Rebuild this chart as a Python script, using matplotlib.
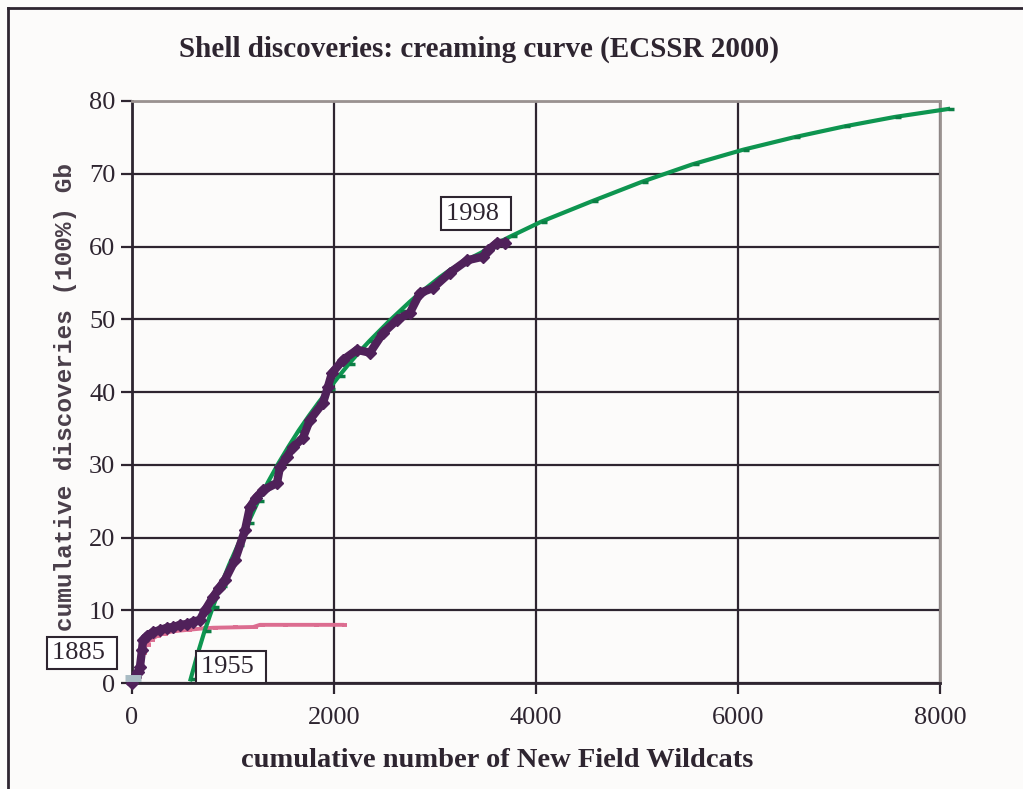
import matplotlib
matplotlib.use("Agg")
import matplotlib.pyplot as plt
from matplotlib.path import Path
from matplotlib.lines import Line2D

# ---- data ----
actual_x = [0, 30, 60, 79, 99, 109, 150, 208, 280, 346, 410, 475, 540, 604, 673, 723, 802, 860, 921,
            1020, 1119, 1168, 1230, 1297, 1436, 1465, 1530, 1594, 1693, 1762, 1891, 1940, 1980, 2089,
            2228, 2356, 2485, 2624, 2752, 2851, 2980, 3148, 3317, 3475, 3524, 3614, 3693]
actual_y = [0, 0.8, 1.5, 2.2, 4.5, 5.9, 6.5, 7.0, 7.3, 7.6, 7.7, 8.0, 8.1, 8.4, 8.7, 10.0, 11.8, 13.0, 14.2,
            16.9, 21.0, 24.2, 25.5, 26.5, 27.5, 29.7, 31.0, 32.4, 33.7, 36.2, 38.5, 40.7, 42.6, 44.4,
            45.8, 45.4, 48.1, 49.9, 50.9, 53.6, 54.3, 56.4, 58.1, 58.6, 59.5, 60.5, 60.5]

cycle1_x = [0, 49, 99, 140, 178, 240, 307, 400, 544, 700, 802, 1000, 1200, 1267, 1500, 1800, 2079]
cycle1_y = [0, 0.8, 4.1, 5.2, 5.9, 6.4, 6.8, 7.1, 7.3, 7.5, 7.6, 7.65, 7.7, 8.0, 8.0, 8.0, 8.0]

cycle2_x = [580, 650, 720, 800, 880, 960, 1050, 1150, 1250, 1350, 1450, 1550, 1650, 1750, 1850, 1950,
            2050, 2150, 2250, 2350, 2450, 2550, 2650, 2750, 2850, 2950, 3050, 3150, 3250, 3350, 3450,
            3550, 3650, 3750, 4050, 4550, 5050, 5550, 6050, 6550, 7050, 7550, 8080]
cycle2_y = [0.5, 4.0, 7.2, 10.4, 13.4, 16.2, 19.0, 22.0, 25.0, 27.7, 30.2, 32.5, 34.7, 36.7, 38.6, 40.4,
            42.2, 43.9, 45.5, 47.0, 48.4, 49.8, 51.1, 52.4, 53.6, 54.7, 55.8, 56.8, 57.6, 58.4, 59.1,
            59.9, 60.7, 61.4, 63.4, 66.2, 68.9, 71.3, 73.3, 75.0, 76.5, 77.8, 78.9]

start_x = [15]
start_y = [0.75]

x_ticks = [0, 2000, 4000, 6000, 8000]
y_ticks = [0, 10, 20, 30, 40, 50, 60, 70, 80]

labels = [("1885", -495, 4.1), ("1955", 980, 2.2), ("1998", 3406, 64.5)]

title = "Shell discoveries: creaming curve (ECSSR 2000)"
xlabel = "cumulative number of New Field Wildcats"
ylabel = "cumulative discoveries (100%) Gb"

# ---- figure ----
serif = "Liberation Serif"
bg = "#fcfbfa"
dark = "#2e2530"
fig = plt.figure(figsize=(10.23, 7.89), dpi=100, facecolor=bg)
ax = fig.add_axes([0.129, 0.1343, 0.9189 - 0.129, 0.872 - 0.1343])
ax.set_facecolor(bg)
ax.set_xlim(0, 8000)
ax.set_ylim(0, 80)

ax.grid(True, color=dark, linewidth=1.6, zorder=0)
ax.set_axisbelow(True)
for s in ["left", "bottom"]:
    ax.spines[s].set_color(dark)
    ax.spines[s].set_linewidth(2)
for s in ["top", "right"]:
    ax.spines[s].set_color("#9a9290")
    ax.spines[s].set_linewidth(2)

ax.set_xticks(x_ticks)
ax.set_yticks(y_ticks)
ax.set_xticklabels([str(v) for v in x_ticks], fontfamily=serif, fontsize=19, color=dark)
ax.set_yticklabels([str(v) for v in y_ticks], fontfamily=serif, fontsize=19, color=dark)
ax.tick_params(axis="both", direction="out", length=8, width=1.6, color=dark, pad=4)
ax.tick_params(axis="x", pad=9)

tick_right = Path([(0, 0), (1, 0)], [Path.MOVETO, Path.LINETO])

ax.plot(cycle1_x, cycle1_y, color="#dc6d90", linewidth=2.8, marker=tick_right,
        markersize=7, markeredgewidth=2.8, zorder=3, clip_on=False)
ax.plot(cycle2_x, cycle2_y, color="#0e9550", linewidth=3, marker=tick_right,
        markersize=9, markeredgewidth=2.5, markeredgecolor="#0b7e44", zorder=4, clip_on=False)
ax.plot(actual_x, actual_y, color="#50215a", linewidth=6, marker="D",
        markersize=6, zorder=5, clip_on=False)
ax.plot(start_x, start_y, color="#a9bcc4", linestyle="none", marker="_",
        markersize=11, markeredgewidth=5, zorder=6, clip_on=False)

for txt, lx, ly in labels:
    ax.text(lx, ly, txt + " ", fontfamily=serif, fontsize=19, color=dark, ha="center", va="center",
            zorder=7, clip_on=False,
            bbox=dict(boxstyle="square,pad=0.2", facecolor="white", edgecolor=dark, linewidth=1.5))

fig.text(0.468, 0.938, title, fontfamily=serif, fontweight="bold", fontsize=21,
         color=dark, ha="center", va="center")
fig.text(0.486, 0.036, xlabel, fontfamily=serif, fontweight="bold", fontsize=20.5,
         color=dark, ha="center", va="center")
fig.text(0.064, 0.497, ylabel, fontfamily="Liberation Mono", fontweight="bold", fontsize=17.6,
         color="#4a3f4a", ha="center", va="center", rotation=90)

# outer frame
fig.add_artist(Line2D([0.008, 0.008], [0, 0.99], transform=fig.transFigure, color=dark, linewidth=2))
fig.add_artist(Line2D([0.008, 1.0], [0.99, 0.99], transform=fig.transFigure, color=dark, linewidth=2))

fig.savefig("out.png", dpi=100, facecolor=bg)
